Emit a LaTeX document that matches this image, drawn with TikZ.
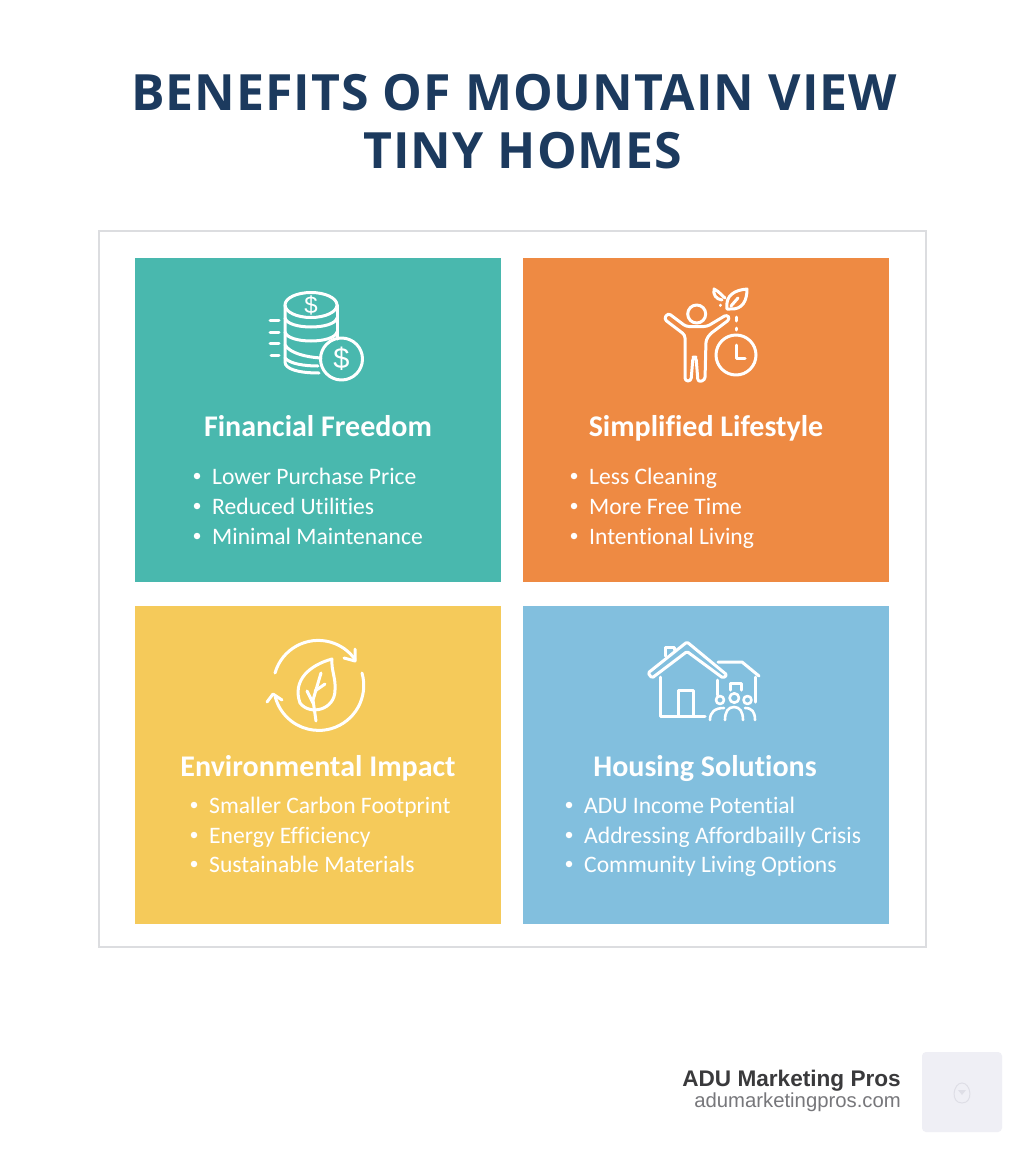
\documentclass[tikz,border=0pt]{standalone}
\usepackage{fontspec}
\setmainfont[Ligatures=NoCommon]{Carlito}
\newfontfamily\titlefont[LetterSpace=2]{Open Sans}
\newfontfamily\footfont{Liberation Sans}
\definecolor{titleblue}{HTML}{1C3A5E}
\definecolor{cardteal}{HTML}{49B8AE}
\definecolor{cardorange}{HTML}{EE8A43}
\definecolor{cardyellow}{HTML}{F5CA5A}
\definecolor{cardblue}{HTML}{82BFDE}
\definecolor{panelgray}{HTML}{DCDDE0}
\definecolor{logogray}{HTML}{EFEFF5}
\definecolor{logoline}{HTML}{DEDEE6}
\definecolor{footdark}{HTML}{3A3A3C}
\definecolor{footgray}{HTML}{77777B}

\begin{document}
\begin{tikzpicture}
                [
                    x=1pt,
                    y=-1pt,
                    card/.style={anchor=north west, inner sep=0pt, outer sep=0pt},
                    main title/.style={color=titleblue, font=\titlefont\bfseries\fontsize{50}{60}\selectfont},
                    card title/.style={color=white, font=\bfseries\fontsize{30}{34}\selectfont, anchor=base},
                    item/.style={color=white, anchor=base west, inner sep=0pt, font=\fontsize{23.6}{28}\selectfont},
                    bullet/.style={color=white, fill=white, circle, inner sep=0pt, minimum size=6.5pt},
                    icon/.style={color=white, line width=3pt, line cap=round, line join=round},
                    thin icon/.style={icon, line width=2.6pt}
                ]
                \useasboundingbox (0,0) rectangle (1024,1154);
                \fill[white] (0,0) rectangle (1024,1154);

                \node (title a) [main title] at (514,93)  {BENEFITS OF MOUNTAIN VIEW};
                \node (title b) [main title] at (523,151) {TINY HOMES};

                \node (panel)
                    [card, draw=panelgray, line width=1.5pt, fill=white,
                        minimum width=827pt, minimum height=716pt]
                    at (99,231) {};

                \node (card money)
                    [card, fill=cardteal, minimum width=366pt, minimum height=324pt]
                    at (135,258) {};
                \node (card life)
                    [card, fill=cardorange, minimum width=366pt, minimum height=324pt]
                    at (523,258) {};
                \node (card earth)
                    [card, fill=cardyellow, minimum width=366pt, minimum height=318pt]
                    at (135,606) {};
                \node (card home)
                    [card, fill=cardblue, minimum width=366pt, minimum height=318pt]
                    at (523,606) {};

                \node (head money) [card title] at (318,436) {Financial Freedom};
                \node (head life)  [card title] at (706,436) {Simplified Lifestyle};
                \node (head earth) [card title] at (318,776) {Environmental Impact};
                \node (head home)  [card title] at (705,776) {Housing Solutions};

                \node (dot money 1) [bullet] at (197,476) {};
                \node (dot money 2) [bullet] at (197,506) {};
                \node (dot money 3) [bullet] at (197,536) {};
                \node (item money 1) [item] at (212,484) {Lower Purchase Price};
                \node (item money 2) [item] at (212,514) {Reduced Utilities};
                \node (item money 3) [item] at (212,544) {Minimal Maintenance};

                \node (dot life 1) [bullet] at (574,476) {};
                \node (dot life 2) [bullet] at (574,506) {};
                \node (dot life 3) [bullet] at (574,536) {};
                \node (item life 1) [item] at (589,484) {Less Cleaning};
                \node (item life 2) [item] at (589,514) {More Free Time};
                \node (item life 3) [item] at (589,544) {Intentional Living};

                \node (dot earth 1) [bullet] at (194,805) {};
                \node (dot earth 2) [bullet] at (194,835) {};
                \node (dot earth 3) [bullet] at (194,864) {};
                \node (item earth 1) [item] at (209,813) {Smaller Carbon Footprint};
                \node (item earth 2) [item] at (209,843) {Energy Efficiency};
                \node (item earth 3) [item] at (209,872) {Sustainable Materials};

                \node (dot home 1) [bullet] at (569,805) {};
                \node (dot home 2) [bullet] at (569,835) {};
                \node (dot home 3) [bullet] at (569,864) {};
                \node (item home 1) [item] at (584,813) {ADU Income Potential};
                \node (item home 2) [item] at (584,843) {Addressing Affordbailly Crisis};
                \node (item home 3) [item] at (584,872) {Community Living Options};

                % coins
                \draw[icon] (311,305) ellipse [x radius=26, y radius=12.5];
                \draw[icon] (285,305) -- (285,362)
                    .. controls (285,369) and (298,373) .. (319,373);
                \draw[icon] (337,305) -- (337,339);
                \draw[icon] (285,318) .. controls (288,330) and (334,330) .. (337,318);
                \draw[icon] (285,332) .. controls (288,344) and (334,344) .. (337,332);
                \draw[icon] (285,345) .. controls (290,353) and (305,357) .. (321,358);
                \draw[icon] (285,358) .. controls (290,364) and (305,366) .. (318,366);
                \draw[icon] (270,320) -- (279,320);
                \draw[icon] (270,332) -- (279,332);
                \draw[icon] (270,343) -- (279,343);
                \draw[icon] (271,355) -- (279,355);
                \draw[icon] (341.5,359) circle [radius=21];
                \node (coin top) [color=white, font=\footfont\fontsize{24}{24}\selectfont] at (311,305) {\$};
                \node (coin side) [color=white, font=\footfont\fontsize{29}{29}\selectfont] at (341.5,359) {\$};

                % person, clock, leaf
                \draw[icon] (696.7,314) circle [radius=9];
                \draw[icon, rounded corners=3pt]
                    (668,313) -- (686,326.5) -- (707,326.5) -- (727,314.5) -- (730,319)
                    -- (710,334) -- (706,340) -- (705,380) -- (698,382) -- (696,357)
                    -- (693,357) -- (691,381) -- (685,381) -- (685,335) -- (664,319) -- cycle;
                \draw[icon] (736,355) circle [radius=20];
                \draw[icon] (736,345) -- (736,358.5) -- (745,358.5);
                \draw[icon] (736.5,317) -- (736.5,321);
                \draw[icon] (736.5,328) -- (736.5,330);
                \draw[icon] (727,309) .. controls (725,295) and (735,290) .. (747,289)
                    .. controls (747,300) and (743,310) .. (730,309) -- cycle;
                \draw[icon] (731,306) -- (738,298);
                \draw[icon] (725,298) .. controls (722,296) and (720,292) .. (714,289)
                    .. controls (713,295) and (716,299) .. (722,300);
                \draw[icon] (720,305) -- (720,305.5);

                % recycle, leaf
                \draw[icon] (275,673) arc [start angle=196, end angle=325, radius=45];
                \draw[icon] (355,649) -- (355,661) -- (344,658);
                \draw[icon] (362,673) arc [start angle=-16, end angle=165, radius=45];
                \draw[icon] (267,702) -- (273,694) -- (282,700);
                \draw[icon] (332,659) .. controls (310,665) and (292,680) .. (300,703)
                    .. controls (310,716) and (335,710) .. (335,690)
                    .. controls (336,678) and (331,670) .. (332,659) -- cycle;
                \draw[icon] (316,721) -- (313,700) -- (321,673);
                \draw[icon] (315,691) -- (325,684);
                \draw[icon] (313,703) -- (307,691);

                % houses, people
                \draw[icon, rounded corners=1.5pt]
                    (648,673) -- (687,642) -- (727,675) -- (723,678) -- (687,651.5) -- (652,678) -- cycle;
                \draw[icon] (665,656) -- (665,647) -- (674,647) -- (674,650);
                \draw[icon] (660,677) -- (660,716) -- (705,716);
                \draw[icon] (717,680) -- (717,695);
                \draw[icon] (678,716) -- (678,690) -- (693,690) -- (693,716);
                \draw[icon] (718,662) -- (742,662) -- (759,676);
                \draw[icon] (755,677) -- (755,702);
                \draw[icon] (730,690) -- (730,683) -- (741,683) -- (741,690);
                \draw[thin icon] (720,700) circle [radius=4];
                \draw[thin icon] (734.3,698) circle [radius=4.7];
                \draw[thin icon] (747.5,700) circle [radius=4];
                \draw[thin icon] (710,720) .. controls (710,712) and (715,708) .. (724,708);
                \draw[thin icon] (725,720) .. controls (725,712) and (728,707) .. (734,707)
                    .. controls (740,707) and (743,712) .. (743,720);
                \draw[thin icon] (745,708) .. controls (752,708) and (755,712) .. (755,720);

                \node (brand) [color=footdark, anchor=base east, inner sep=0pt,
                        font=\footfont\bfseries\fontsize{22.6}{26}\selectfont]
                    at (901,1086) {ADU Marketing Pros};
                \node (brand url) [color=footgray, anchor=base east, inner sep=0pt,
                        font=\footfont\fontsize{20.3}{24}\selectfont]
                    at (901,1107) {adumarketingpros.com};
                \node (logo)
                    [card, fill=logogray, rounded corners=4pt, minimum width=80pt, minimum height=80pt]
                    at (922,1052) {};
                \draw[logoline, line width=1pt] (962,1103) .. controls (950,1103) and (953,1083) .. (962,1083)
                    .. controls (971,1083) and (974,1103) .. (962,1103) -- cycle;
                \fill[logoline] (958,1090) -- (966,1090) -- (962,1095) -- cycle;

            \end{tikzpicture}
\end{document}
